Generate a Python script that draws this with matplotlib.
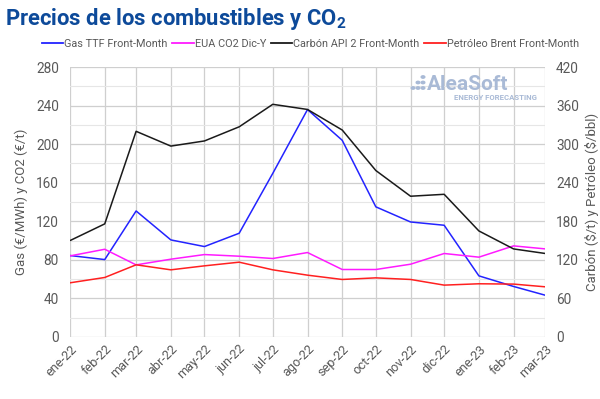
import matplotlib
matplotlib.use("Agg")
import matplotlib.pyplot as plt
from matplotlib.patches import Circle
from matplotlib.lines import Line2D
import datetime as dt

plt.rcParams['font.family'] = ['Roboto', 'DejaVu Sans']
plt.rcParams['mathtext.fontset'] = 'custom'
plt.rcParams['mathtext.bf'] = 'Roboto:bold'
plt.rcParams['mathtext.rm'] = 'Roboto'

months = ["2022-01", "2022-02", "2022-03", "2022-04", "2022-05", "2022-06", "2022-07",
          "2022-08", "2022-09", "2022-10", "2022-11", "2022-12", "2023-01", "2023-02", "2023-03"]
tick_labels = ["ene-22", "feb-22", "mar-22", "abr-22", "may-22", "jun-22", "jul-22",
               "ago-22", "sep-22", "oct-22", "nov-22", "dic-22", "ene-23", "feb-23", "mar-23"]
gas_ttf = [84.5, 80.3, 130.7, 100.7, 93.8, 107.6, 169.7, 235.9, 204.0, 135.0, 119.3, 115.9, 63.4, 52.4, 43.4]
eua_co2 = [84.1, 91.0, 74.8, 80.7, 85.5, 83.8, 81.4, 87.6, 70.0, 70.0, 75.5, 86.6, 82.8, 94.5, 91.4]
carbon_api2 = [150, 176, 320, 297, 305, 327, 362, 354, 322, 259, 219, 222, 165, 137, 130]
brent = [84.3, 92.6, 112.3, 104.5, 110.7, 116.4, 104.5, 96.2, 89.5, 92.0, 89.5, 80.7, 82.8, 82.3, 78.1]

dates = [dt.datetime.strptime(m, "%Y-%m") for m in months]

fig = plt.figure(figsize=(6.0, 3.99), dpi=100)
ax = fig.add_axes([0.1167, 0.1554, 0.7916, 0.6766])
ax2 = ax.twinx()

grey_txt = "#595959"
c_gas = "#2323ff"
c_co2 = "#ff1aff"
c_coal = "#1a1a1a"
c_brent = "#ff2020"

ax.set_ylim(0, 280)
ax2.set_ylim(0, 420)
ax.set_xlim(dates[0], dates[-1])

ax.set_yticks(range(0, 281, 40))
ax.set_yticks(range(20, 281, 40), minor=True)
ax2.set_yticks(range(0, 421, 60))

ax.grid(True, which='major', axis='both', color='#cfcfcf', lw=0.9)
ax.grid(True, which='minor', axis='y', color='#e6e6e6', lw=0.8)
ax.set_axisbelow(True)

ax.set_xticks(dates)
ax.set_xticklabels(tick_labels, rotation=45, ha='right', rotation_mode='anchor')

for a in (ax, ax2):
    for s in a.spines.values():
        s.set_visible(False)
    a.tick_params(axis='both', which='both', length=0, colors=grey_txt, labelsize=9.8)
ax.tick_params(axis='x', pad=4, labelsize=9.2)
ax.tick_params(axis='y', pad=8)
ax2.tick_params(axis='y', pad=8)

ax.plot(dates, gas_ttf, color=c_gas, lw=1.1, zorder=3)
ax.plot(dates, eua_co2, color=c_co2, lw=1.1, zorder=3)
ax2.plot(dates, carbon_api2, color=c_coal, lw=1.1, zorder=3)
ax2.plot(dates, brent, color=c_brent, lw=1.1, zorder=3)

ax.set_ylabel("Gas (€/MWh) y CO2 (€/t)", color=grey_txt, fontsize=9.5, labelpad=6)
ax2.set_ylabel("Carbón (\\$/t) y Petróleo (\\$/bbl)", color=grey_txt, fontsize=9.5, labelpad=4)

fig.text(0.008, 0.953, "Precios de los combustibles y CO$_\\mathbf{2}$", color="#0d4a9a",
         fontsize=15.8, fontweight='bold', va='center', ha='left')

handles = [Line2D([], [], color=c_gas, lw=1.3), Line2D([], [], color=c_co2, lw=1.3),
           Line2D([], [], color=c_coal, lw=1.3), Line2D([], [], color=c_brent, lw=1.3)]
labels = ["Gas TTF Front-Month", "EUA CO2 Dic-Y", "Carbón API 2 Front-Month", "Petróleo Brent Front-Month"]
fig.legend(handles, labels, loc='center', bbox_to_anchor=(0.517, 0.889), ncol=4, frameon=False,
           fontsize=7.8, handlelength=2.0, handletextpad=0.1, columnspacing=0.4, labelcolor=grey_txt)

# logo
logo_c = "#a9bad6"
fig.text(0.712, 0.787, "AleaSoft", color=logo_c, fontsize=15, fontweight='bold', ha='left', va='center')
fig.text(0.895, 0.755, "ENERGY FORECASTING", color=logo_c, fontsize=5.6, fontweight='bold', ha='right', va='center')
for (px, py) in [(413, 88), (418, 88), (423, 88), (418, 82.5), (423, 82.5), (423, 77)]:
    fig.patches.append(Circle((px / 600, 1 - py / 399), 1.8 / 600, transform=fig.transFigure,
                              color=logo_c, zorder=5))

fig.savefig("out.png", dpi=100)
